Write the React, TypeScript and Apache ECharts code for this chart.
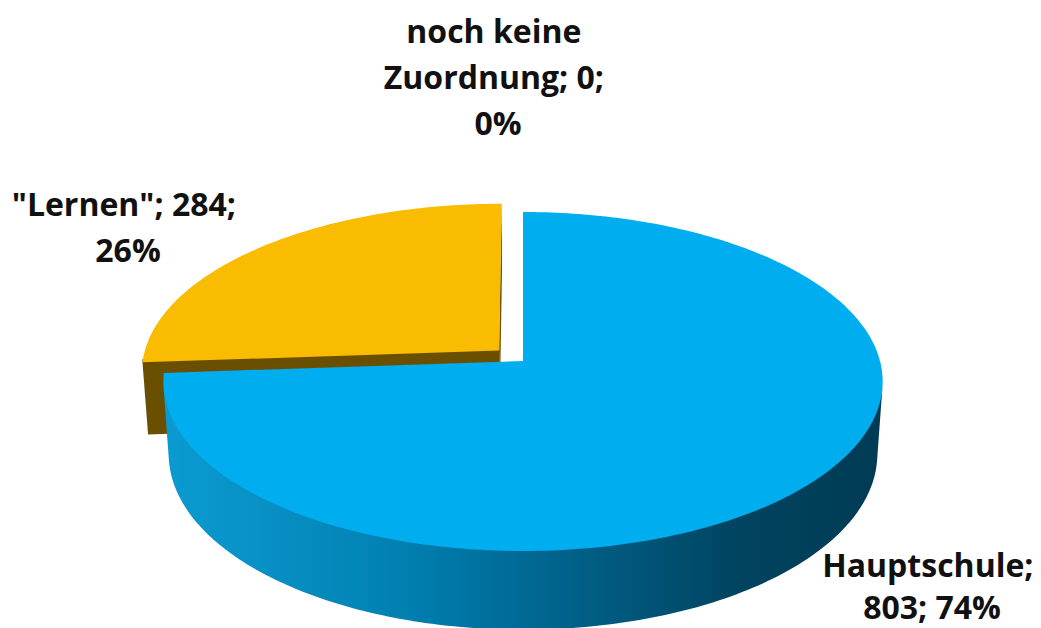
import React, { useEffect, useRef } from 'react';
import * as echarts from 'echarts';

// ---- data ----
const CATEGORIES = ['Hauptschule', '"Lernen"', 'noch keine Zuordnung'];
const VALUES = [803, 284, 0];

// ---- layout / style ----
const PIE = { cx: 523, cy: 361, kx: 357, ky: 167, p: 0.121, thick: 0.232 };
const EXPLODE = [0, 0.092, 0];
const TOP_COLORS = ['#00aeef', '#f9bc00', '#a5a5a5'];
const CUT_COLORS = ['#0079a8', '#6a4f00', '#6e6e6e'];
const LABEL_POS = [[932, 585], [128, 226], [498, 76]];

const PHI = Math.asin(PIE.ky / PIE.kx);
const DIST = Math.cos(PHI) / PIE.p;
const FOCAL = PIE.kx * DIST;

function project(X: number, Z: number, Y: number): number[] {
  const depth = DIST + Z * Math.cos(PHI) - Y * Math.sin(PHI);
  const up = Y * Math.cos(PHI) + Z * Math.sin(PHI);
  return [PIE.cx + (FOCAL * X) / depth, PIE.cy - (FOCAL * up) / depth];
}

function sideFill(i: number): any {
  if (i === 0) {
    return new echarts.graphic.LinearGradient(
      PIE.cx - PIE.kx,
      0,
      PIE.cx + PIE.kx,
      0,
      [
        { offset: 0, color: '#0a9ad1' },
        { offset: 0.12, color: '#0892c6' },
        { offset: 0.34, color: '#007fb0' },
        { offset: 0.45, color: '#00709d' },
        { offset: 0.62, color: '#005a80' },
        { offset: 0.8, color: '#004460' },
        { offset: 1, color: '#003b55' },
      ],
      true
    );
  }
  return CUT_COLORS[i];
}

export default function App() {
  const ref = useRef<HTMLDivElement>(null);
  useEffect(() => {
    if (!ref.current) return;
    const chart = echarts.init(ref.current, undefined, { renderer: 'svg' });
    const total = VALUES.reduce((s, v) => s + v, 0);

    const renderItem = (params: any, api: any) => {
      const i = params.dataIndex;
      const value = api.value(0);
      const before = VALUES.slice(0, i).reduce((s, v) => s + v, 0);
      const cs = before / total;
      const ce = (before + value) / total;
      const a = ((90 - ce * 360) * Math.PI) / 180;
      const b = ((90 - cs * 360) * Math.PI) / 180;
      const mid = (a + b) / 2;
      const ox = EXPLODE[i] * Math.cos(mid);
      const oz = EXPLODE[i] * Math.sin(mid);
      const depthRank = Math.round(-Math.sin(mid) * 10) + 20;
      const base = depthRank * 10;
      const T = PIE.thick;
      const children: any[] = [];

      if (value > 0) {
        const steps = Math.max(4, Math.ceil(((b - a) * 180) / Math.PI));
        const ts: number[] = [];
        for (let k = 0; k <= steps; k++) ts.push(a + ((b - a) * k) / steps);
        const rimTop = ts.map((t) => project(ox + Math.cos(t), oz + Math.sin(t), 0));

        // outer wall visible runs
        const dc = DIST * Math.cos(PHI);
        let run: number[] = [];
        const flush = () => {
          if (run.length >= 2) {
            const top = run.map((t) => project(ox + Math.cos(t), oz + Math.sin(t), 0.01));
            const bot = run
              .slice()
              .reverse()
              .map((t) => project(ox + Math.cos(t), oz + Math.sin(t), -T));
            children.push({
              type: 'polygon',
              shape: { points: top.concat(bot) },
              style: { fill: sideFill(i) },
              z2: base,
            });
          }
          run = [];
        };
        for (let k = 0; k < steps; k++) {
          const tm = (ts[k] + ts[k + 1]) / 2;
          const vis = -ox * Math.cos(tm) - (dc + oz) * Math.sin(tm) - 1 > 0;
          if (vis) {
            if (run.length === 0) run.push(ts[k]);
            run.push(ts[k + 1]);
          } else {
            flush();
          }
        }
        flush();

        // radial cut faces
        const faceA = -ox * Math.sin(a) + (dc + oz) * Math.cos(a) > 0;
        const faceB = ox * Math.sin(b) - (dc + oz) * Math.cos(b) > 0;
        const cutFace = (t: number) => ({
          type: 'polygon',
          shape: {
            points: [
              project(ox, oz, 0.01),
              project(ox + Math.cos(t), oz + Math.sin(t), 0.01),
              project(ox + Math.cos(t), oz + Math.sin(t), -T),
              project(ox, oz, -T),
            ],
          },
          style: { fill: CUT_COLORS[i] },
          z2: base + 1,
        });
        if (faceA) children.push(cutFace(a));
        if (faceB) children.push(cutFace(b));

        // top face
        children.push({
          type: 'polygon',
          shape: { points: [project(ox, oz, 0)].concat(rimTop) },
          style: { fill: TOP_COLORS[i] },
          z2: base + 2,
        });
      }

      const pct = total > 0 ? Math.round((value / total) * 100) : 0;
      children.push({
        type: 'text',
        x: LABEL_POS[i][0],
        y: LABEL_POS[i][1],
        z2: 1000,
        style: {
          text: `${CATEGORIES[i]}; ${value}; ${pct}%`,
          fill: '#111111',
          font: 'bold 32px "Open Sans"',
          align: 'center',
          verticalAlign: 'middle',
          lineHeight: i === 0 ? 42 : 46,
          width: 255,
          overflow: 'break',
        },
      });

      return { type: 'group', children };
    };

    chart.setOption({
      animation: false,
      backgroundColor: '#ffffff',
      series: [
        {
          type: 'custom',
          coordinateSystem: 'none',
          silent: true,
          renderItem,
          data: VALUES.map((v, i) => ({ value: [v], name: CATEGORIES[i] })),
        },
      ],
    });
    return () => chart.dispose();
  }, []);

  return (
    <div
      ref={ref}
      style={{ position: 'fixed', left: 0, top: 0, width: 1041, height: 628 }}
    />
  );
}
